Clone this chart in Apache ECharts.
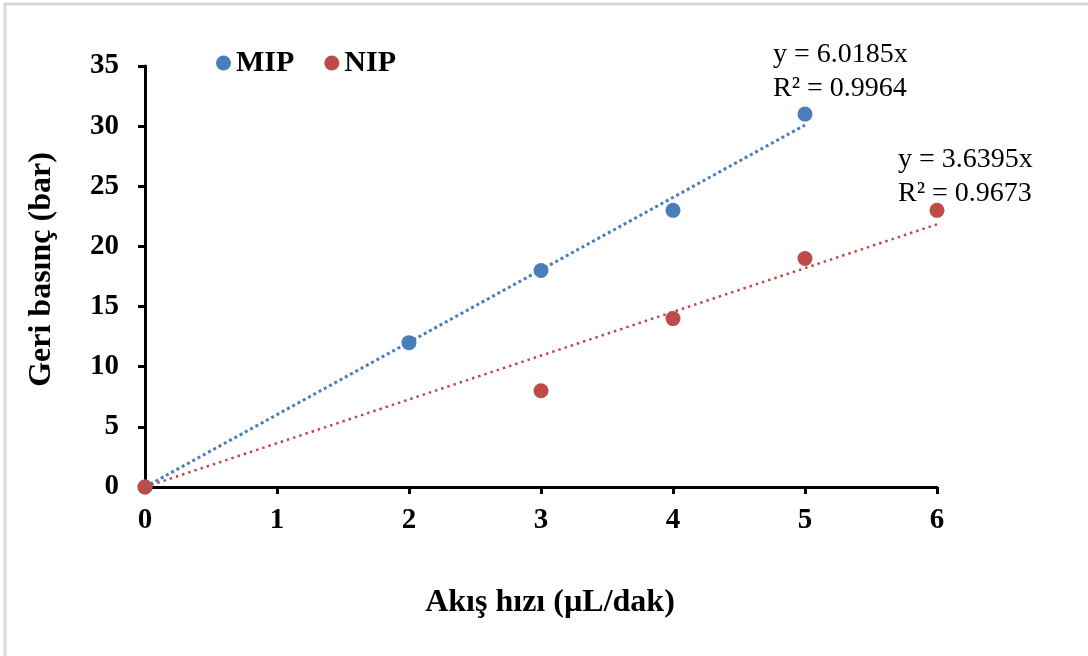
<!DOCTYPE html>
<html>
<head>
<meta charset="utf-8">
<script src="https://cdn.jsdelivr.net/npm/echarts@6/dist/echarts.min.js"></script>
<style>
html,body{margin:0;padding:0;background:#fff;}
#c{width:1088px;height:656px;}
</style>
</head>
<body>
<div id="c"></div>
<script>
const xTicks = [0, 1, 2, 3, 4, 5, 6];
const yTicks = [0, 5, 10, 15, 20, 25, 30, 35];
const mipX = [0, 2, 3, 4, 5];
const mipY = [0, 12, 18, 23, 31];
const nipX = [0, 3, 4, 5, 6];
const nipY = [0, 8, 14, 19, 23];
const mipSlope = 6.0185;
const nipSlope = 3.6395;
const mipR2 = 0.9964;
const nipR2 = 0.9673;
const mipTrendRange = [0, 5];
const nipTrendRange = [0, 6];

const blue = '#4a7ebb';
const red = '#be4b48';
const serif = '"Liberation Serif", "Times New Roman", serif';

const mipData = mipX.map((x, i) => [x, mipY[i]]);
const nipData = nipX.map((x, i) => [x, nipY[i]]);
const mipTrend = mipTrendRange.map(x => [x, mipSlope * x]);
const nipTrend = nipTrendRange.map(x => [x, nipSlope * x]);

const chart = echarts.init(document.getElementById('c'), null, {renderer: 'canvas'});
chart.setOption({
  animation: false,
  backgroundColor: '#fff',
  grid: {left: 145, right: 151, top: 66, bottom: 169, containLabel: false},
  legend: {
    left: 211, top: 43, itemGap: 30, itemWidth: 15, itemHeight: 15,
    data: [{name: 'MIP', icon: 'circle'}, {name: 'NIP', icon: 'circle'}],
    textStyle: {fontFamily: serif, fontWeight: 'bold', fontSize: 30, color: '#000'}
  },
  xAxis: {
    type: 'value', min: xTicks[0], max: xTicks[xTicks.length - 1], interval: 1,
    name: 'Akış hızı (µL/dak)', nameLocation: 'middle', nameGap: 100,
    nameTextStyle: {fontFamily: serif, fontWeight: 'bold', fontSize: 32, color: '#000', padding: [0, 0, 0, 18]},
    axisLine: {show: true, lineStyle: {color: '#000', width: 3}},
    axisTick: {show: true, inside: false, length: 7, lineStyle: {color: '#000', width: 3}},
    axisLabel: {fontFamily: serif, fontWeight: 'bold', fontSize: 29, color: '#000', margin: 19},
    splitLine: {show: false}
  },
  yAxis: {
    type: 'value', min: yTicks[0], max: yTicks[yTicks.length - 1], interval: 5,
    name: 'Geri basınç (bar)', nameLocation: 'middle', nameGap: 87, nameRotate: 90,
    nameTextStyle: {fontFamily: serif, fontWeight: 'bold', fontSize: 32, color: '#000', padding: [0, 0, 0, 14]},
    axisLine: {show: true, lineStyle: {color: '#000', width: 3}},
    axisTick: {show: true, inside: false, length: 7, lineStyle: {color: '#000', width: 3}},
    axisLabel: {fontFamily: serif, fontWeight: 'bold', fontSize: 29, color: '#000', margin: 26},
    splitLine: {show: false}
  },
  series: [
    {name: 'MIP', type: 'scatter', data: mipData, symbolSize: 15, itemStyle: {color: blue, opacity: 1}, z: 3},
    {name: 'NIP', type: 'scatter', data: nipData, symbolSize: 15, itemStyle: {color: red, opacity: 1}, z: 3},
    {name: 'MIP trend', type: 'line', data: mipTrend, showSymbol: false, symbol: 'none',
     lineStyle: {color: blue, width: 3, type: [3, 3]}, z: 4, silent: true},
    {name: 'NIP trend', type: 'line', data: nipTrend, showSymbol: false, symbol: 'none',
     lineStyle: {color: red, width: 2.5, type: [2.5, 4]}, z: 4, silent: true}
  ],
  graphic: [
    {type: 'rect', shape: {x: 5, y: 4, width: 1200, height: 800},
     style: {fill: 'none', stroke: '#d9d9d9', lineWidth: 3}, silent: true, z: -10},
    {type: 'text', left: 773, top: 38,
     style: {text: 'y = ' + mipSlope.toFixed(4) + 'x\nR² = ' + mipR2.toFixed(4),
       font: '28px ' + serif, fill: '#000', lineHeight: 34}},
    {type: 'text', left: 898, top: 143,
     style: {text: 'y = ' + nipSlope.toFixed(4) + 'x\nR² = ' + nipR2.toFixed(4),
       font: '28px ' + serif, fill: '#000', lineHeight: 34}}
  ]
});
</script>
</body>
</html>
